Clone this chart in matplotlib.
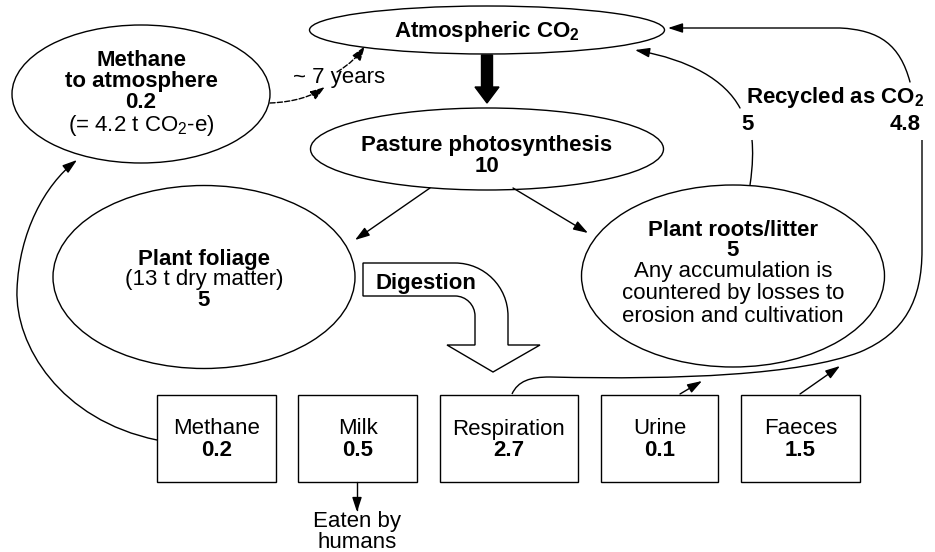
import matplotlib
matplotlib.use("Agg")
import matplotlib.pyplot as plt
from matplotlib.patches import Ellipse, Rectangle, FancyArrowPatch, FancyArrow, PathPatch
from matplotlib.path import Path

plt.rcParams['font.family'] = ['Liberation Sans', 'DejaVu Sans']
plt.rcParams['mathtext.fontset'] = 'custom'
plt.rcParams['mathtext.rm'] = 'Liberation Sans'
plt.rcParams['mathtext.bf'] = 'Liberation Sans:bold'

# carbon flows (t C / ha / yr)
photosynthesis = 10
foliage = 5
roots_litter = 5
dry_matter = 13
methane_atm = 0.2
methane_co2e = 4.2
methane_years = 7
recycled = [5, 4.8]

box_labels = ["Methane", "Milk", "Respiration", "Urine", "Faeces"]
box_values = [0.2, 0.5, 2.7, 0.1, 1.5]

# box layout (pixels, y down)
box_left = [157, 298, 440, 601, 741]
box_width = [119, 119, 138, 117, 119]
box_top, box_h = 395, 87

FS = 16
LW = 1.0
CO2 = r"CO$_\mathrm{2}$"
CO2B = r"CO$_\mathbf{2}$"

fig = plt.figure(figsize=(9.35, 5.52), dpi=100)
ax = fig.add_axes([0, 0, 1, 1])
ax.set_xlim(0, 935)
ax.set_ylim(552, 0)
ax.axis('off')


def ell(cx, cy, w, h):
    ax.add_patch(Ellipse((cx, cy), w, h, fill=False, ec='black', lw=LW))


def txt(x, y, s, bold=False, size=FS):
    ax.text(x, y, s, ha='center', va='center', fontsize=size,
            fontweight='bold' if bold else 'normal')


def curve(verts, codes, arrow=True, ls='-'):
    p = Path(verts, codes)
    if arrow:
        a = FancyArrowPatch(path=p, arrowstyle='-|>,head_length=0.55,head_width=0.18',
                            mutation_scale=16, color='black', lw=LW, linestyle=ls,
                            shrinkA=0, shrinkB=0)
        ax.add_patch(a)
    else:
        ax.add_patch(PathPatch(p, fill=False, ec='black', lw=LW, ls=ls))


M, L, C = Path.MOVETO, Path.LINETO, Path.CURVE4

# ellipses
ell(487, 30, 355, 48)
txt(487, 31, "Atmospheric " + CO2B, bold=True)

ell(487, 149, 353, 82)
txt(487, 145, "Pasture photosynthesis", bold=True)
txt(487, 167, str(photosynthesis), bold=True)

ell(141, 94, 258, 138)
txt(141, 61, "Methane", bold=True)
txt(141, 82, "to atmosphere", bold=True)
txt(141, 103, str(methane_atm), bold=True)
txt(141, 125, "(= %s t %s-e)" % (methane_co2e, CO2))

ell(204, 277, 302, 183)
txt(204, 259, "Plant foliage", bold=True)
txt(204, 280, "(%d t dry matter)" % dry_matter)
txt(204, 301, str(foliage), bold=True)

ell(733, 276, 303, 182)
txt(733, 230, "Plant roots/litter", bold=True)
txt(733, 251, str(roots_litter), bold=True)
txt(733, 272, "Any accumulation is")
txt(733, 294, "countered by losses to")
txt(733, 316, "erosion and cultivation")

# thick arrow CO2 -> photosynthesis
ax.add_patch(FancyArrow(487, 55, 0, 48, width=11, head_width=24, head_length=16,
                        length_includes_head=True, color='black'))

# photosynthesis -> foliage / roots
curve([(430, 188), (355, 240)], [M, L])
curve([(513, 188), (588, 233)], [M, L])

# methane ellipse -> atmosphere (dashed)
curve([(270, 103), (295, 102), (312, 96), (325, 87)], [M, C, C, C], ls='--')
curve([(337, 72), (350, 64), (358, 56), (365, 46)], [M, C, C, C], ls='--')
txt(339, 77, "~ %d years" % methane_years)

# methane box -> methane ellipse
curve([(157, 440), (60, 420), (15, 345), (17, 290),
       (19, 232), (45, 185), (77, 160)], [M, C, C, C, C, C, C])

# roots -> atmosphere (recycled)
curve([(750, 185), (753, 165), (753, 150), (752, 140)], [M, C, C, C], arrow=False)
curve([(740, 108), (725, 80), (690, 60), (635, 50)], [M, C, C, C])
txt(835, 97, "Recycled as " + CO2B, bold=True)
txt(748, 124, str(recycled[0]), bold=True)
txt(905, 124, str(recycled[1]), bold=True)

# respiration line up the right side
curve([(512, 394), (518, 381), (530, 377), (550, 377),
       (680, 380), (800, 375), (860, 352),
       (905, 333), (922, 300), (922, 250),
       (922, 140)], [M, C, C, C, C, C, C, C, C, C, L], arrow=False)
curve([(910, 82), (900, 45), (880, 30), (840, 28), (668, 28)], [M, C, C, C, L])

# urine and faeces -> roots
curve([(680, 394), (702, 381)], [M, L])
curve([(800, 394), (840, 366)], [M, L])

# digestion hollow arrow
cx, cy, Ro, Ri = 455, 316, 53, 20
k = 0.5523
dig = [(363, cy - Ro), (cx, cy - Ro),
       (cx + k * Ro, cy - Ro), (cx + Ro, cy - k * Ro), (cx + Ro, cy),
       (cx + Ro, 345), (540, 345), (493, 372), (447, 345), (cx + Ri, 345),
       (cx + Ri, cy),
       (cx + Ri, cy - k * Ri), (cx + k * Ri, cy - Ri), (cx, cy - Ri),
       (363, cy - Ri), (363, cy - Ro)]
dcodes = [M, L, C, C, C, L, L, L, L, L, L, C, C, C, L, Path.CLOSEPOLY]
ax.add_patch(PathPatch(Path(dig, dcodes), fc='white', ec='black', lw=LW))
txt(426, 283, "Digestion", bold=True)

# output boxes
for lab, val, x0, w in zip(box_labels, box_values, box_left, box_width):
    ax.add_patch(Rectangle((x0, box_top), w, box_h, fill=False, ec='black', lw=LW))
    txt(x0 + w / 2, 429, lab)
    txt(x0 + w / 2, 450, str(val), bold=True)

# milk -> humans
curve([(357, 482), (357, 512)], [M, L])
txt(357, 522, "Eaten by")
txt(357, 542, "humans")

fig.savefig("out.png", dpi=100)
